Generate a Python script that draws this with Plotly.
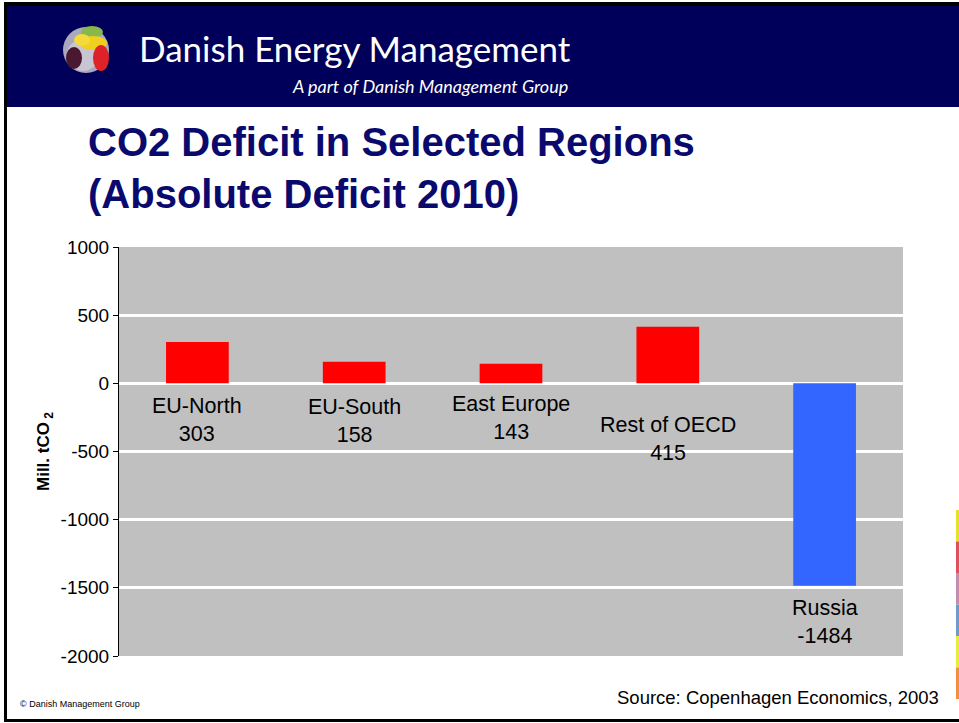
import plotly.graph_objects as go

# ---- data ----
regions = ["EU-North", "EU-South", "East Europe", "Rest of OECD", "Russia"]
deficit = [303, 158, 143, 415, -1484]
bar_colors = ["#FF0000", "#FF0000", "#FF0000", "#FF0000", "#3366FF"]
y_ticks = [1000, 500, 0, -500, -1000, -1500, -2000]
y_tick_labels = [str(t) for t in y_ticks]
# label gap below zero line / bar end, in pixels
label_gap = [9, 10, 7, 28, 8]

W, H = 959, 723
def fx(px):
    return px / W
def fy(py):
    return 1 - py / H

fig = go.Figure()
fig.add_trace(go.Bar(
    x=regions, y=deficit, marker=dict(color=bar_colors, line=dict(width=0)),
    width=0.4, hoverinfo="x+y",
))

shapes = []
# header band
shapes.append(dict(type="rect", xref="paper", yref="paper", x0=fx(6), x1=fx(959), y0=fy(107), y1=fy(5),
                   fillcolor="#00005A", line=dict(width=0), layer="below"))
# black frame lines
shapes.append(dict(type="rect", xref="paper", yref="paper", x0=fx(5), x1=fx(959), y0=fy(6), y1=fy(2),
                   fillcolor="#000000", line=dict(width=0)))
shapes.append(dict(type="rect", xref="paper", yref="paper", x0=fx(4), x1=fx(7), y0=fy(722), y1=fy(2),
                   fillcolor="#000000", line=dict(width=0)))
shapes.append(dict(type="rect", xref="paper", yref="paper", x0=fx(4), x1=fx(959), y0=fy(722), y1=fy(719),
                   fillcolor="#000000", line=dict(width=0)))
# logo sphere
def circ(cx, cy, rx, ry, col, op=1.0):
    return dict(type="circle", xref="paper", yref="paper", x0=fx(cx - rx), x1=fx(cx + rx),
                y0=fy(cy + ry), y1=fy(cy - ry), fillcolor=col, opacity=op, line=dict(width=0))
shapes.append(circ(86, 50, 23, 23, "#A9A8BC"))
shapes.append(circ(83, 55, 16, 16, "#C8C6D2"))
shapes.append(circ(92, 32, 11, 6, "#86B84A"))
shapes.append(circ(93, 43, 14, 7, "#F0CF1E"))
shapes.append(circ(82, 40, 8, 6, "#F4DA3A"))
shapes.append(circ(101, 58, 8, 13, "#DD2228"))
shapes.append(circ(74, 58, 8, 11, "#4A1830"))
# coloured stripe at right edge
stripe_cols = ["#E6E22A", "#E0505A", "#C58CB0", "#6E9BC8", "#E8EC3A", "#F09040"]
for i, c in enumerate(stripe_cols):
    shapes.append(dict(type="rect", xref="paper", yref="paper", x0=fx(956), x1=fx(959),
                       y0=fy(510 + (i + 1) * 31.5), y1=fy(510 + i * 31.5), fillcolor=c, line=dict(width=0)))

annotations = []
annotations.append(dict(xref="paper", yref="paper", x=fx(137), y=fy(48), xanchor="left", yanchor="middle",
                        text="Danish Energy Management", showarrow=False,
                        font=dict(family="Lato", size=35, color="#FFFFFF")))
annotations.append(dict(xref="paper", yref="paper", x=fx(570), y=fy(86), xanchor="right", yanchor="middle",
                        text="<i>A part of Danish Management Group</i>", showarrow=False,
                        font=dict(family="Lato", size=18, color="#FFFFFF")))
annotations.append(dict(xref="paper", yref="paper", x=fx(86), y=fy(168), xanchor="left", yanchor="middle",
                        text="<b>CO2 Deficit in Selected Regions<br>(Absolute Deficit 2010)</b>", showarrow=False,
                        align="left", font=dict(family="Liberation Sans", size=40, color="#0A0A6E")))
annotations.append(dict(xref="paper", yref="paper", x=fx(45), y=fy(452), xanchor="center", yanchor="middle",
                        text="<b>Mill. tCO<sub> 2</sub></b>", textangle=-90, showarrow=False,
                        font=dict(family="Liberation Sans", size=17, color="#000000")))
annotations.append(dict(xref="paper", yref="paper", x=fx(18), y=fy(704), xanchor="left", yanchor="middle",
                        text="© Danish Management Group", showarrow=False,
                        font=dict(family="Liberation Sans", size=9, color="#000000")))
annotations.append(dict(xref="paper", yref="paper", x=fx(941), y=fy(697), xanchor="right", yanchor="middle",
                        text="Source: Copenhagen Economics, 2003", showarrow=False,
                        font=dict(family="Liberation Sans", size=18.5, color="#000000")))
for r, v, g in zip(regions, deficit, label_gap):
    annotations.append(dict(xref="x", yref="y", x=r, y=min(v, 0), yanchor="top", yshift=-g,
                            text=f"{r}<br>{v}", showarrow=False,
                            font=dict(family="Liberation Sans", size=21.5, color="#000000")))

fig.update_layout(
    template="none",
    width=W, height=H,
    margin=dict(l=0, r=0, t=0, b=0),
    paper_bgcolor="#FFFFFF",
    plot_bgcolor="#C0C0C0",
    showlegend=False,
    bargap=0.6,
    shapes=shapes,
    annotations=annotations,
    xaxis=dict(domain=[fx(119), fx(903)], showticklabels=False, ticks="", showgrid=False,
               zeroline=False, showline=False, automargin=False),
    yaxis=dict(domain=[fy(656), fy(247)], range=[-2000, 1000], tickvals=y_ticks, ticktext=y_tick_labels,
               ticks="outside", ticklen=5, tickcolor="#000000", showline=True, linecolor="#000000",
               linewidth=1, showgrid=True, gridcolor="#FFFFFF", gridwidth=3,
               zeroline=True, zerolinecolor="#FFFFFF", zerolinewidth=3,
               tickfont=dict(family="Liberation Sans", size=19, color="#000000"), automargin=False),
)

fig.write_html("out.html", config={"displayModeBar": False},
               post_script="document.body.style.margin='0px';document.body.style.overflow='hidden';")
